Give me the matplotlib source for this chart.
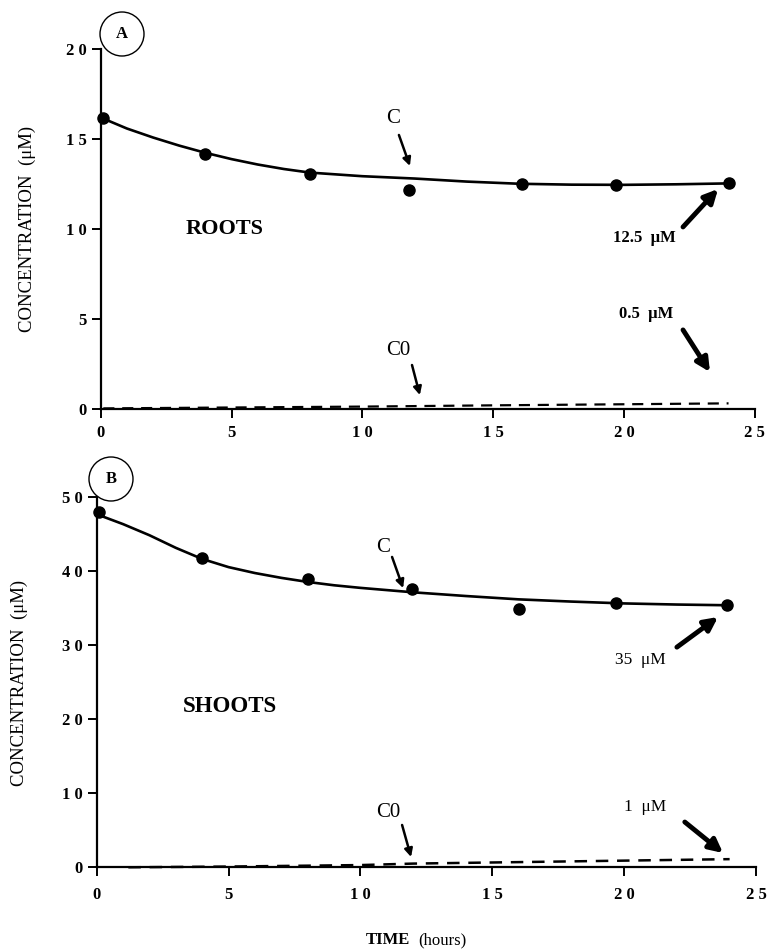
import matplotlib
matplotlib.use('Agg')
import matplotlib.pyplot as plt
from matplotlib.patches import Ellipse

plt.rcParams['font.family'] = ['Liberation Serif', 'DejaVu Serif']

# panel A - roots
rootsPtsX = [0.1, 4.0, 8.0, 11.8, 16.1, 19.7, 24.0]
rootsPtsY = [16.2, 14.2, 13.1, 12.2, 12.5, 12.45, 12.6]
rootsFitX = [0.1, 1, 2, 3, 4, 5, 6, 7, 8, 10, 12, 14, 16, 18, 20, 22, 24]
rootsFitY = [16.15, 15.6, 15.1, 14.65, 14.25, 13.9, 13.6, 13.35, 13.15, 12.95, 12.82, 12.65, 12.53, 12.48, 12.47, 12.5, 12.55]
rootsC0X = [0.1, 5, 10, 15, 20, 24]
rootsC0Y = [0.05, 0.1, 0.15, 0.22, 0.28, 0.33]

# panel B - shoots
shootsPtsX = [0.1, 4.0, 8.0, 11.95, 16.0, 19.7, 23.9]
shootsPtsY = [47.9, 41.7, 38.9, 37.5, 34.8, 35.6, 35.4]
shootsFitX = [0.1, 1, 2, 3, 4, 5, 6, 7, 8, 9, 10, 12, 14, 16, 18, 20, 22, 24]
shootsFitY = [47.5, 46.3, 44.8, 43.1, 41.6, 40.5, 39.7, 39.05, 38.5, 38.05, 37.7, 37.1, 36.6, 36.15, 35.85, 35.6, 35.45, 35.35]
shootsC0X = [1.2, 5, 10, 12, 16, 20, 24]
shootsC0Y = [0.0, 0.1, 0.3, 0.5, 0.7, 0.9, 1.1]

xTicks = [0, 5, 10, 15, 20, 25]
xTickLabels = ['0', '5', '1 0', '1 5', '2 0', '2 5']
rootsYTicks = [0, 5, 10, 15, 20]
rootsYTickLabels = ['0', '5', '1 0', '1 5', '2 0']
shootsYTicks = [0, 10, 20, 30, 40, 50]
shootsYTickLabels = ['0', '1 0', '2 0', '3 0', '4 0', '5 0']

W, H = 767, 949
fig = plt.figure(figsize=(W / 100, H / 100), dpi=100)

def px_axes(left, right, top, bottom):
    return fig.add_axes([left / W, 1 - bottom / H, (right - left) / W, (bottom - top) / H])

axA = px_axes(100.7, 754.7, 49.3, 409.3)
axB = px_axes(96.7, 756.0, 496.7, 867.3)

def style(ax, ylim, yt, ytl, xpad):
    ax.set_xlim(0, 25)
    ax.set_ylim(*ylim)
    for s in ['top', 'right']:
        ax.spines[s].set_visible(False)
    for s in ['left', 'bottom']:
        ax.spines[s].set_linewidth(1.6)
    ax.set_xticks(xTicks)
    ax.set_xticklabels(xTickLabels, fontweight='bold', fontsize=12)
    ax.set_yticks(yt)
    ax.set_yticklabels(ytl, fontweight='bold', fontsize=12)
    ax.tick_params(axis='both', direction='out', length=6.5, width=1.4)
    ax.tick_params(axis='x', pad=xpad)
    ax.tick_params(axis='y', pad=3.5)
    ax.patch.set_alpha(0)

def arrow(ax, tail, tip, lw, scale):
    ax.annotate('', xy=tip, xytext=tail,
                arrowprops=dict(arrowstyle='-|>', color='black', lw=lw,
                                mutation_scale=scale, shrinkA=0, shrinkB=0),
                annotation_clip=False)

# ---- panel A ----
axA.plot(rootsFitX, rootsFitY, color='black', lw=1.9, solid_joinstyle='round', clip_on=False)
axA.plot(rootsPtsX, rootsPtsY, 'o', color='black', ms=8, clip_on=False)
axA.plot(rootsC0X, rootsC0Y, color='black', lw=1.6, dashes=(5, 3.5), clip_on=False)
style(axA, (0, 20), rootsYTicks, rootsYTickLabels, 4.5)

axA.text(4.73, 10.02, 'ROOTS', fontsize=16, fontweight='bold', ha='center', va='center')
axA.text(11.18, 16.18, 'C', fontsize=15, ha='center', va='center')
arrow(axA, (11.4, 15.24), (11.82, 13.52), 1.8, 12)
axA.text(11.36, 3.29, 'C0', fontsize=15, ha='center', va='center')
arrow(axA, (11.9, 2.46), (12.2, 0.79), 1.8, 12)
axA.text(20.8, 9.52, '12.5  \u03bcM', fontsize=12, fontweight='bold', ha='center', va='center')
arrow(axA, (22.26, 10.13), (23.6, 12.24), 3.5, 20)
axA.text(20.84, 5.29, '0.5  \u03bcM', fontsize=12, fontweight='bold', ha='center', va='center')
arrow(axA, (22.26, 4.41), (23.29, 2.07), 3.5, 20)

# ---- panel B ----
axB.plot(shootsFitX, shootsFitY, color='black', lw=1.9, solid_joinstyle='round', clip_on=False)
axB.plot(shootsPtsX, shootsPtsY, 'o', color='black', ms=8, clip_on=False)
axB.plot(shootsC0X, shootsC0Y, color='black', lw=1.8, dashes=(5, 3.5), clip_on=False)
style(axB, (0, 50), shootsYTicks, shootsYTickLabels, 7.5)

axB.text(5.05, 21.76, 'SHOOTS', fontsize=16.5, fontweight='bold', ha='center', va='center')
axB.text(10.86, 43.08, 'C', fontsize=15, ha='center', va='center')
arrow(axB, (11.2, 41.87), (11.62, 37.67), 1.8, 12)
axB.text(11.05, 7.46, 'C0', fontsize=15, ha='center', va='center')
arrow(axB, (11.58, 5.71), (11.92, 1.39), 1.8, 12)
axB.text(20.6, 27.97, '35  \u03bcM', fontsize=12.5, ha='center', va='center')
arrow(axB, (22.0, 29.7), (23.56, 33.77), 3.5, 20)
axB.text(20.79, 8.14, '1  \u03bcM', fontsize=12.5, ha='center', va='center')
arrow(axB, (22.3, 6.11), (23.75, 1.93), 3.5, 20)

# circled panel letters
for cx, cy, letter in [(122, 34, 'A'), (111, 479, 'B')]:
    fig.patches.append(Ellipse((cx / W, 1 - cy / H), 44 / W, 44 / H,
                               transform=fig.transFigure, fill=False, lw=1.0, color='black'))
    fig.text(cx / W, 1 - cy / H, letter, fontsize=12, fontweight='bold', ha='center', va='center')

# y labels and x label
fig.text(27 / W, 1 - 229 / H, 'CONCENTRATION  (\u03bcM)', rotation=90, fontsize=13.5,
         ha='center', va='center')
fig.text(19 / W, 1 - 683 / H, 'CONCENTRATION  (\u03bcM)', rotation=90, fontsize=13.5,
         ha='center', va='center')
fig.text(410 / W, 1 - 940 / H, 'TIME', fontsize=12, fontweight='bold', ha='right', va='center')
fig.text(418 / W, 1 - 940 / H, '(hours)', fontsize=12, ha='left', va='center')

fig.savefig('out.png', dpi=100)
